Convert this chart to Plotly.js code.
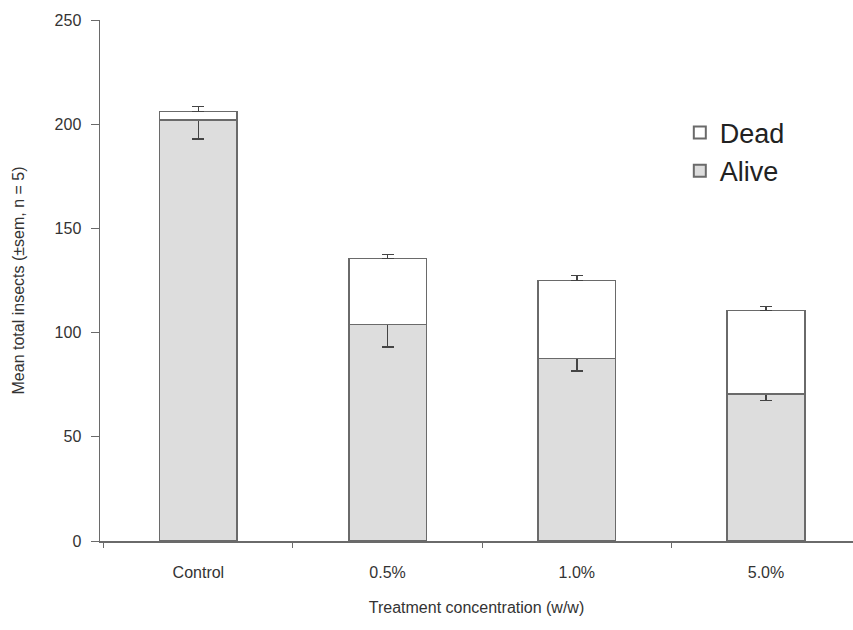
<!DOCTYPE html>
<html>
<head>
<meta charset="utf-8">
<script src="https://cdn.plot.ly/plotly-3.0.1.min.js"></script>
<style>html,body{margin:0;padding:0;background:#fff;}#chart{width:853px;height:630px;}</style>
</head>
<body>
<div id="chart"></div>
<script>
const categories = ["Control", "0.5%", "1.0%", "5.0%"];
const aliveMean = [202, 104, 87.5, 70.5];
const aliveSem = [9, 11, 6, 3];
const deadMean = [4, 31.5, 37.5, 40];
const totalSem = [2.5, 2, 2.5, 2];

const lineCol = "#6a6a6a";
const traces = [
  {
    type: "bar", name: "Alive", x: categories, y: aliveMean,
    width: 0.41,
    marker: {color: "#dddddd", line: {color: lineCol, width: 1.5}},
    error_y: {type: "data", symmetric: false, array: aliveSem.map(() => 0), arrayminus: aliveSem, color: "#444", thickness: 1.5, width: 6}
  },
  {
    type: "bar", name: "Dead", x: categories, y: deadMean,
    width: 0.41,
    marker: {color: "#ffffff", line: {color: lineCol, width: 1.5}},
    error_y: {type: "data", symmetric: false, array: totalSem, arrayminus: totalSem.map(() => 0), color: "#444", thickness: 1.5, width: 6}
  }
];

const layout = {
  width: 853, height: 630,
  margin: {l: 100, r: 0, t: 20, b: 89},
  paper_bgcolor: "#fff", plot_bgcolor: "#fff",
  barmode: "stack",
  font: {family: "Liberation Sans, Arial, sans-serif", color: "#333", size: 16},
  showlegend: true,
  legend: {x: 0.77, y: 0.83, xanchor: "left", yanchor: "top", traceorder: "reversed",
    font: {size: 27, color: "#222"}, bgcolor: "rgba(0,0,0,0)", itemsizing: "constant"},
  xaxis: {
    type: "category", categoryorder: "array", categoryarray: categories,
    range: [-0.52, 3.46], showline: true, linecolor: lineCol, linewidth: 1.5,
    ticks: "outside", tickson: "boundaries", ticklen: 5, tickcolor: lineCol,
    ticklabelstandoff: 16,
    showgrid: false, zeroline: false, tickfont: {size: 16, color: "#333"},
    title: {text: "Treatment concentration (w/w)", font: {size: 16, color: "#333"}, standoff: 22}
  },
  yaxis: {
    range: [0, 250], tickvals: [0, 50, 100, 150, 200, 250],
    showline: true, linecolor: lineCol, linewidth: 1.5,
    ticks: "outside", ticklen: 8, tickcolor: lineCol,
    ticklabelstandoff: 6,
    showgrid: false, zeroline: false, tickfont: {size: 16, color: "#333"},
    title: {text: "Mean total insects (±sem, n = 5)", font: {size: 16, color: "#333"}, standoff: 26}
  }
};

Plotly.newPlot("chart", traces, layout, {displayModeBar: false, staticPlot: true});
</script>
</body>
</html>
